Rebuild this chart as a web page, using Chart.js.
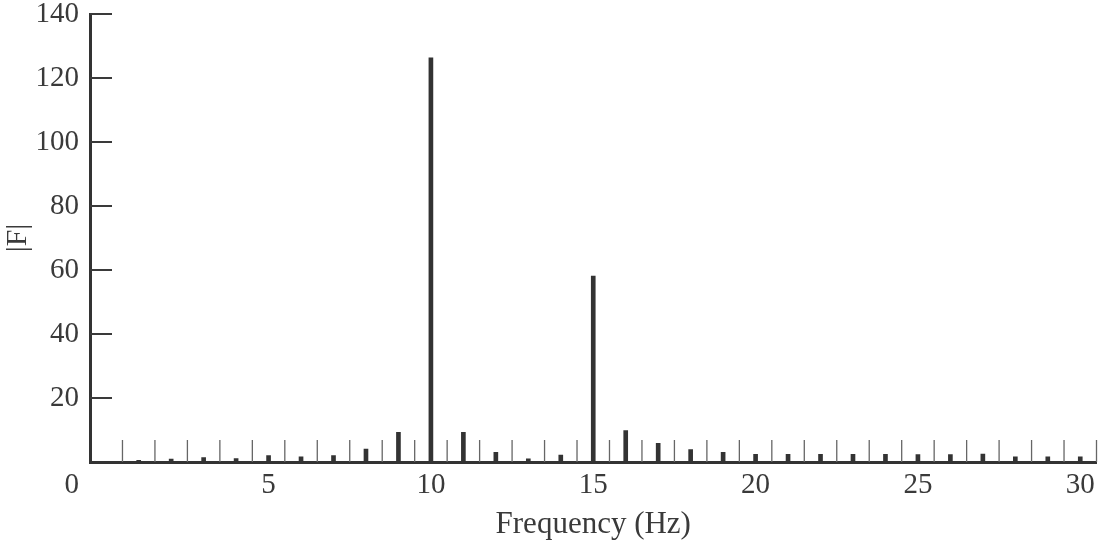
<!DOCTYPE html>
<html>
<head>
<meta charset="utf-8">
<script src="https://cdn.jsdelivr.net/npm/chart.js@4.4.0/dist/chart.umd.min.js"></script>
<style>
  html,body{margin:0;padding:0;background:#fff;}
  #wrap{width:1099px;height:541px;position:relative;}
</style>
</head>
<body>
<div id="wrap"><canvas id="chart"></canvas></div>
<script>
// Data
const freqs = [0,1,2,3,4,5,6,7,8,9,10,11,12,13,14,15,16,17,18,19,20,21,22,23,24,25,26,27,28,29,30];
const mags  = [0,0.5,0.9,1.4,1.1,2.0,1.6,2.0,4.0,9.3,126.3,9.3,3.0,1.0,2.2,58.1,9.8,5.8,3.9,3.0,2.4,2.4,2.4,2.4,2.4,2.3,2.3,2.5,1.6,1.6,1.6];
const xTickLabels = [5,10,15,20,25,30];
const yTickLabels = [20,40,60,80,100,120,140];

const ink = "#3a3a3a";
const serif = "'Liberation Serif', 'DejaVu Serif', serif";

// inward tick marks + shared origin label
const innerTicks = {
  id:"innerTicks",
  afterDraw(chart){
    const ctx = chart.ctx, xs = chart.scales.x, ys = chart.scales.y;
    const a = chart.chartArea;
    ctx.save();
    // x ticks between bins
    ctx.strokeStyle = "#666";
    ctx.lineWidth = 1.3;
    freqs.map(f=>f+0.5).forEach(v=>{
      const px = xs.getPixelForValue(v);
      ctx.beginPath();
      ctx.moveTo(px, a.bottom);
      ctx.lineTo(px, a.bottom-22);
      ctx.stroke();
    });
    // y ticks
    ctx.strokeStyle = ink;
    ctx.lineWidth = 2;
    yTickLabels.forEach(v=>{
      const py = ys.getPixelForValue(v);
      ctx.beginPath();
      ctx.moveTo(a.left, py);
      ctx.lineTo(a.left+22, py);
      ctx.stroke();
    });
    // "0" at the corner
    ctx.fillStyle = ink;
    ctx.font = "29px " + serif;
    ctx.textAlign = "right";
    ctx.textBaseline = "middle";
    ctx.fillText("0", a.left-11, a.bottom+23);
    ctx.restore();
  }
};

new Chart(document.getElementById("chart"),{
  type:"bar",
  data:{
    datasets:[{
      data:freqs.map((f,i)=>({x:f,y:mags[i]})),
      backgroundColor:"#333",
      barThickness:4
    }]
  },
  options:{
    responsive:true,
    maintainAspectRatio:false,
    animation:false,
    layout:{padding:{top:14,right:2.5,left:0,bottom:0}},
    plugins:{legend:{display:false},tooltip:{enabled:false}},
    scales:{
      x:{
        type:"linear",
        min:-0.5,max:30.5,
        offset:false,
        afterBuildTicks(s){ s.ticks = xTickLabels.map(v=>({value:v})); },
        afterFit(s){ s.height = 79; s.paddingLeft = 0; s.paddingRight = 0; },
        grid:{drawOnChartArea:false,drawTicks:false},
        border:{display:true,color:"#333",width:3},
        ticks:{color:ink,font:{family:serif,size:29},padding:6,maxRotation:0,autoSkip:false},
        title:{display:true,text:"Frequency (Hz)",color:ink,font:{family:serif,size:31},padding:{top:0,bottom:-2}}
      },
      y:{
        min:0,max:140,
        afterBuildTicks(s){ s.ticks = yTickLabels.map(v=>({value:v})); },
        afterFit(s){ s.width = 90; s.paddingTop = 0; s.paddingBottom = 0; },
        grid:{drawOnChartArea:false,drawTicks:false},
        border:{display:true,color:"#333",width:3},
        ticks:{color:ink,font:{family:serif,size:29},padding:11},
        title:{display:true,text:"|F|",color:ink,font:{family:serif,size:30},padding:{top:0,bottom:0}}
      }
    }
  },
  plugins:[innerTicks]
});
</script>
</body>
</html>
